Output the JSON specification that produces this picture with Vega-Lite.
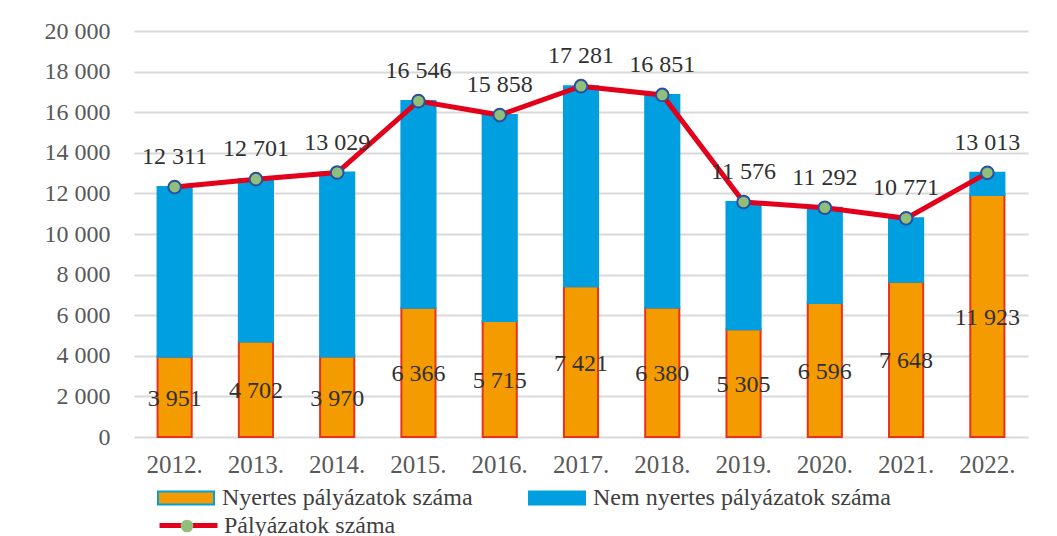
{
  "$schema": "https://vega.github.io/schema/vega-lite/v6.json",
  "autosize": "none",
  "width": 894,
  "height": 406,
  "padding": {"left": 134, "top": 31, "right": 29, "bottom": 99},
  "background": "white",
  "datasets": {
    "bars": [
      {"year": "2012.", "series": "Nyertes pályázatok száma", "rank": 1, "value": 3951},
      {"year": "2012.", "series": "Nem nyertes pályázatok száma", "rank": 2, "value": 8360},
      {"year": "2013.", "series": "Nyertes pályázatok száma", "rank": 1, "value": 4702},
      {"year": "2013.", "series": "Nem nyertes pályázatok száma", "rank": 2, "value": 7999},
      {"year": "2014.", "series": "Nyertes pályázatok száma", "rank": 1, "value": 3970},
      {"year": "2014.", "series": "Nem nyertes pályázatok száma", "rank": 2, "value": 9059},
      {"year": "2015.", "series": "Nyertes pályázatok száma", "rank": 1, "value": 6366},
      {"year": "2015.", "series": "Nem nyertes pályázatok száma", "rank": 2, "value": 10180},
      {"year": "2016.", "series": "Nyertes pályázatok száma", "rank": 1, "value": 5715},
      {"year": "2016.", "series": "Nem nyertes pályázatok száma", "rank": 2, "value": 10143},
      {"year": "2017.", "series": "Nyertes pályázatok száma", "rank": 1, "value": 7421},
      {"year": "2017.", "series": "Nem nyertes pályázatok száma", "rank": 2, "value": 9860},
      {"year": "2018.", "series": "Nyertes pályázatok száma", "rank": 1, "value": 6380},
      {"year": "2018.", "series": "Nem nyertes pályázatok száma", "rank": 2, "value": 10471},
      {"year": "2019.", "series": "Nyertes pályázatok száma", "rank": 1, "value": 5305},
      {"year": "2019.", "series": "Nem nyertes pályázatok száma", "rank": 2, "value": 6271},
      {"year": "2020.", "series": "Nyertes pályázatok száma", "rank": 1, "value": 6596},
      {"year": "2020.", "series": "Nem nyertes pályázatok száma", "rank": 2, "value": 4696},
      {"year": "2021.", "series": "Nyertes pályázatok száma", "rank": 1, "value": 7648},
      {"year": "2021.", "series": "Nem nyertes pályázatok száma", "rank": 2, "value": 3123},
      {"year": "2022.", "series": "Nyertes pályázatok száma", "rank": 1, "value": 11923},
      {"year": "2022.", "series": "Nem nyertes pályázatok száma", "rank": 2, "value": 1090}
    ],
    "totals": [
      {"year": "2012.", "total": 12311, "nyertes": 3951},
      {"year": "2013.", "total": 12701, "nyertes": 4702},
      {"year": "2014.", "total": 13029, "nyertes": 3970},
      {"year": "2015.", "total": 16546, "nyertes": 6366},
      {"year": "2016.", "total": 15858, "nyertes": 5715},
      {"year": "2017.", "total": 17281, "nyertes": 7421},
      {"year": "2018.", "total": 16851, "nyertes": 6380},
      {"year": "2019.", "total": 11576, "nyertes": 5305},
      {"year": "2020.", "total": 11292, "nyertes": 6596},
      {"year": "2021.", "total": 10771, "nyertes": 7648},
      {"year": "2022.", "total": 13013, "nyertes": 11923}
    ]
  },
  "encoding": {
    "x": {
      "field": "year", "type": "nominal", "title": null,
      "scale": {"paddingInner": 0.58, "paddingOuter": 0.29},
      "axis": {"domain": false, "ticks": false, "labelAngle": 0, "labelPadding": 15, "labelFontSize": 25, "grid": false}
    }
  },
  "layer": [
    {
      "data": {"name": "bars"},
      "mark": {"type": "bar", "strokeWidth": 2},
      "encoding": {
        "y": {
          "field": "value", "type": "quantitative", "stack": "zero", "title": null,
          "scale": {"domain": [0, 20000], "nice": false},
          "axis": {"values": [0, 2000, 4000, 6000, 8000, 10000, 12000, 14000, 16000, 18000, 20000], "format": ",d", "domain": false, "ticks": false, "labelPadding": 24, "gridColor": "#d9d9d9", "gridWidth": 2}
        },
        "fill": {
          "field": "series", "type": "nominal",
          "sort": ["Nyertes pályázatok száma", "Nem nyertes pályázatok száma"],
          "scale": {"domain": ["Nyertes pályázatok száma", "Nem nyertes pályázatok száma"], "range": ["#f49b00", "#009fe0"]},
          "legend": {
            "title": null, "orient": "none", "legendX": 23, "legendY": 438, "direction": "horizontal", "columns": 2, "columnPadding": 52,
            "padding": 0, "labelLimit": 0,
            "symbolType": "M-1,-0.23H1V0.23H-1Z", "symbolSize": 3136, "symbolStrokeWidth": 2,
            "labelOffset": 7,
            "encode": {"symbols": {"update": {"stroke": {"signal": "datum.value === 'Nyertes pályázatok száma' ? '#e8321e' : '#009fe0'"}}}}
          }
        },
        "stroke": {
          "condition": {"test": "datum.series === 'Nyertes pályázatok száma'", "value": "#e8321e"},
          "value": "#009fe0"
        },
        "order": {"field": "rank", "type": "quantitative"}
      }
    },
    {
      "data": {"name": "totals"},
      "mark": {"type": "line", "strokeWidth": 5},
      "encoding": {
        "y": {"field": "total", "type": "quantitative"},
        "stroke": {
          "datum": "Pályázatok száma",
          "scale": {"range": ["#e3001b"]},
          "legend": {"title": null, "orient": "none", "legendX": 23, "legendY": 463, "padding": 0, "labelLimit": 0, "symbolType": "stroke", "symbolSize": 3364, "symbolStrokeWidth": 5, "labelOffset": 4}
        }
      }
    },
    {
      "data": {"name": "totals"},
      "mark": {"type": "point", "filled": true, "fill": "#8fbf78", "stroke": "#2b4f9e", "strokeWidth": 2, "size": 160, "opacity": 1},
      "encoding": {
        "y": {"field": "total", "type": "quantitative"},
        "shape": {
          "datum": "Pályázatok száma ",
          "scale": {"range": ["circle"]},
          "legend": {"title": null, "orient": "none", "legendX": 41, "legendY": 483, "padding": 0, "labelExpr": "''", "symbolSize": 160, "symbolFillColor": "#8fbf78", "symbolStrokeColor": "#2b4f9e", "symbolStrokeWidth": 2, "symbolOpacity": 1}
        }
      }
    },
    {
      "data": {"name": "totals"},
      "mark": {"type": "text", "baseline": "alphabetic", "dy": -23, "fontSize": 24, "color": "#303030"},
      "encoding": {
        "y": {"field": "total", "type": "quantitative"},
        "text": {"field": "total", "type": "quantitative", "format": ","}
      }
    },
    {
      "data": {"name": "totals"},
      "transform": [{"calculate": "datum.nyertes / 2", "as": "mid"}],
      "mark": {"type": "text", "baseline": "middle", "dy": 2, "fontSize": 24, "color": "#303030"},
      "encoding": {
        "y": {"field": "mid", "type": "quantitative"},
        "text": {"field": "nyertes", "type": "quantitative", "format": ","}
      }
    }
  ],
  "config": {
    "locale": {"number": {"decimal": ",", "thousands": " ", "grouping": [3], "currency": ["", ""]}},
    "font": "Liberation Serif",
    "view": {"stroke": null},
    "axis": {"labelFont": "Liberation Serif", "labelFontSize": 24, "labelColor": "#595959"},
    "legend": {"labelFont": "Liberation Serif", "labelFontSize": 24, "labelColor": "#404040"},
    "text": {"font": "Liberation Serif"}
  }
}
